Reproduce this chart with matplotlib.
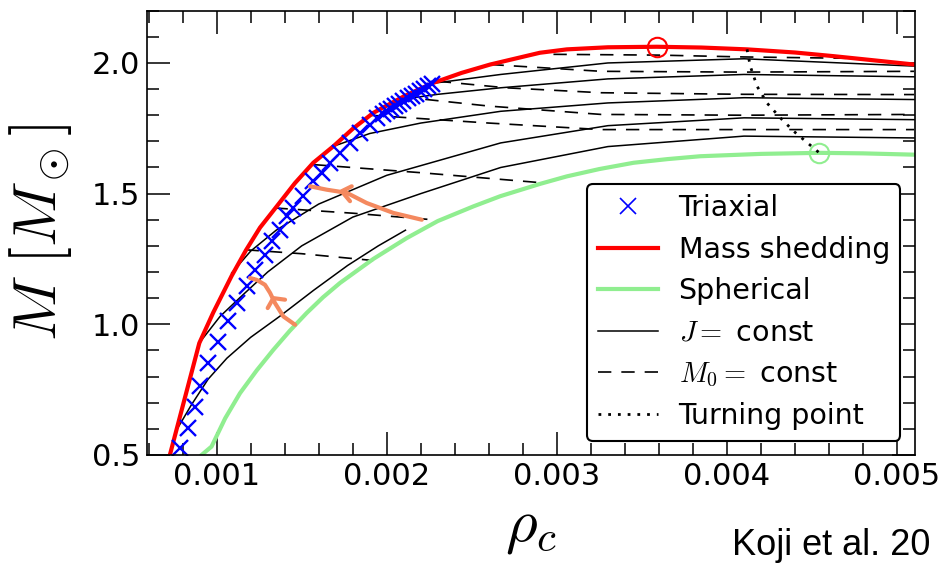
import numpy as np
import matplotlib
matplotlib.use('Agg')
import matplotlib.pyplot as plt
from matplotlib.ticker import MultipleLocator

plt.rcParams['mathtext.fontset'] = 'cm'
plt.rcParams['font.family'] = ['DejaVu Sans']

# mass shedding limit (rho_c, M)
red_rho = [0.000725, 0.000898, 0.00098, 0.001088, 0.001172, 0.001255, 0.001353, 0.001460, 0.001568,
           0.001686, 0.001800, 0.001921, 0.002100, 0.002274, 0.002440, 0.002608, 0.002900, 0.003059,
           0.003300, 0.003588, 0.003850, 0.004118, 0.004400, 0.004627, 0.004850, 0.005100]
red_M = [0.50, 0.928, 1.045, 1.185, 1.283, 1.370, 1.451, 1.540, 1.618,
         1.681, 1.748, 1.809, 1.872, 1.924, 1.962, 1.994, 2.039, 2.052,
         2.060, 2.062, 2.059, 2.052, 2.040, 2.026, 2.011, 1.994]

# spherical sequence
green_rho = [0.000912, 0.00097, 0.001050, 0.001137, 0.001235, 0.001333, 0.001430, 0.001529, 0.001625,
             0.001725, 0.001921, 0.002118, 0.002300, 0.002509, 0.002667, 0.002900, 0.003059, 0.003250,
             0.003451, 0.003650, 0.003843, 0.004200, 0.004543, 0.004800, 0.005100]
green_M = [0.50, 0.532, 0.640, 0.736, 0.823, 0.902, 0.975, 1.043, 1.103,
           1.158, 1.250, 1.330, 1.395, 1.451, 1.490, 1.537, 1.566, 1.594,
           1.618, 1.632, 1.643, 1.652, 1.656, 1.654, 1.649]

# triaxial models
tri_rho = [0.000784, 0.000833, 0.000872, 0.000902, 0.000951, 0.001009, 0.001068, 0.001118, 0.001176,
           0.001225, 0.001284, 0.001324, 0.001371, 0.001412, 0.001451, 0.001510, 0.001568, 0.001618,
           0.001667, 0.001725, 0.001784, 0.001843, 0.001902, 0.001941, 0.001975, 0.002000, 0.002025,
           0.002049, 0.002073, 0.002098, 0.002122, 0.002147, 0.002171, 0.002196, 0.002220, 0.002245,
           0.002265]
tri_M = [0.526, 0.602, 0.685, 0.762, 0.851, 0.934, 1.011, 1.081, 1.148,
         1.209, 1.266, 1.317, 1.362, 1.413, 1.445, 1.490, 1.547, 1.579,
         1.618, 1.656, 1.694, 1.733, 1.764, 1.790, 1.803, 1.815, 1.825,
         1.834, 1.844, 1.854, 1.864, 1.873, 1.883, 1.892, 1.902, 1.911,
         1.918]

# J = const sequences
J1_rho = [0.000765, 0.00085, 0.00095, 0.00106, 0.0012, 0.00137, 0.00157, 0.00177, 0.00195, 0.00211]
J1_M = [0.596, 0.69, 0.79, 0.87, 0.95, 1.03, 1.13, 1.225, 1.30, 1.36]
J2_rho = [0.0009, 0.00102, 0.00115, 0.0013, 0.0015, 0.0018, 0.0022, 0.00267, 0.0033, 0.0041, 0.0051]
J2_M = [0.93, 1.03, 1.11, 1.20, 1.30, 1.41, 1.50, 1.60, 1.68, 1.72, 1.713]
J3_rho = [0.001088, 0.0012, 0.00135, 0.0016, 0.002, 0.00267, 0.0033, 0.0041, 0.0051]
J3_M = [1.196, 1.28, 1.36, 1.46, 1.57, 1.694, 1.76, 1.79, 1.783]
J4_rho = [0.001686, 0.0019, 0.0022, 0.00267, 0.0033, 0.0041, 0.0051]
J4_M = [1.681, 1.73, 1.77, 1.815, 1.847, 1.867, 1.86]
J5_rho = [0.002078, 0.0023, 0.00267, 0.0033, 0.0041, 0.0051]
J5_M = [1.86, 1.88, 1.905, 1.939, 1.956, 1.947]
J6_rho = [0.002294, 0.00267, 0.0033, 0.0041, 0.0051]
J6_M = [1.924, 1.956, 2.0, 2.016, 1.988]

# M0 = const sequences
D1_rho = [0.00117, 0.0015, 0.00192]
D1_M = [1.285, 1.27, 1.244]
D2_rho = [0.00134, 0.0018, 0.00227]
D2_M = [1.445, 1.425, 1.40]
D3_rho = [0.00157, 0.0022, 0.00292]
D3_M = [1.611, 1.58, 1.541]
D4_rho = [0.0019, 0.0026, 0.00326, 0.0041, 0.0051]
D4_M = [1.80, 1.77, 1.745, 1.745, 1.745]
D5_rho = [0.00209, 0.0026, 0.00326, 0.0041, 0.0051]
D5_M = [1.87, 1.835, 1.803, 1.80, 1.803]
D6_rho = [0.0023, 0.0027, 0.00326, 0.0041, 0.0051]
D6_M = [1.93, 1.905, 1.886, 1.88, 1.879]
D7_rho = [0.00261, 0.00326, 0.0041, 0.0051]
D7_M = [1.994, 1.968, 1.965, 1.968]
D8_rho = [0.00298, 0.0036, 0.0041, 0.0047]
D8_M = [2.033, 2.03, 2.023, 2.018]

# turning points
turn_rho = [0.004118, 0.004137, 0.004177, 0.004235, 0.004314, 0.004392, 0.004543]
turn_M = [2.052, 1.988, 1.911, 1.847, 1.79, 1.739, 1.656]

# hand drawn arrows
arr1_rho = [0.002206, 0.002039, 0.001882, 0.001765, 0.001647, 0.001549]
arr1_M = [1.400, 1.426, 1.464, 1.503, 1.515, 1.528]
arr1_head_rho = [0.001794, 0.001735, 0.001784]
arr1_head_M = [1.528, 1.509, 1.471]
arr2_rho = [0.001461, 0.001392, 0.001343, 0.001314, 0.001284, 0.001235, 0.001196]
arr2_M = [0.998, 1.030, 1.081, 1.120, 1.151, 1.170, 1.177]
arr2_head_rho = [0.001300, 0.001333, 0.001402]
arr2_head_M = [1.062, 1.100, 1.094]

fig = plt.figure(figsize=(9.44, 5.63), dpi=100)
ax = fig.add_axes([0.156, 0.192, 0.813, 0.789])

dash = (8, 6)
for r, m in [(D1_rho, D1_M), (D2_rho, D2_M), (D3_rho, D3_M), (D4_rho, D4_M),
             (D5_rho, D5_M), (D6_rho, D6_M), (D7_rho, D7_M), (D8_rho, D8_M)]:
    ax.plot(r, m, color='black', lw=1.2, dashes=dash)
for r, m in [(J1_rho, J1_M), (J2_rho, J2_M), (J3_rho, J3_M), (J4_rho, J4_M),
             (J5_rho, J5_M), (J6_rho, J6_M)]:
    ax.plot(r, m, color='black', lw=1.1)

ax.plot(green_rho, green_M, color='#90EE90', lw=3)
ax.plot(red_rho, red_M, color='red', lw=3)
ax.plot(turn_rho, turn_M, color='black', lw=2, linestyle=(0, (1, 2.5)))
ax.plot(tri_rho, tri_M, 'x', color='blue', ms=11, mew=1.7)

ax.plot([0.003588], [2.062], 'o', mfc='none', mec='red', ms=14, mew=1.5)
ax.plot([0.004543], [1.656], 'o', mfc='none', mec='#90EE90', ms=14, mew=1.5)

orange = '#F4895F'
ax.plot(arr1_rho, arr1_M, color=orange, lw=3, solid_capstyle='round')
ax.plot(arr1_head_rho, arr1_head_M, color=orange, lw=3, solid_capstyle='round')
ax.plot(arr2_rho, arr2_M, color=orange, lw=3, solid_capstyle='round')
ax.plot(arr2_head_rho, arr2_head_M, color=orange, lw=3, solid_capstyle='round')

# legend proxies
ax.plot([], [], 'x', color='blue', ms=11, mew=1.2, label='Triaxial')
ax.plot([], [], color='red', lw=3, label='Mass shedding')
ax.plot([], [], color='#90EE90', lw=3, label='Spherical')
ax.plot([], [], color='black', lw=1.1, label=r'$J=$ const')
ax.plot([], [], color='black', lw=1.2, dashes=dash, label=r'$M_0=$ const')
ax.plot([], [], color='black', lw=2, linestyle=(0, (1, 2.5)), label='Turning point')
handles, labels = ax.get_legend_handles_labels()
leg = ax.legend(handles[-6:], labels[-6:], loc='lower right', fontsize=20.5,
                borderaxespad=0.5, handlelength=2.1, handletextpad=0.74,
                labelspacing=0.47, borderpad=0.37, fancybox=True, framealpha=1,
                edgecolor='black')
leg.get_frame().set_linewidth(1.5)

ax.set_xlim(0.000592, 0.005104)
ax.set_ylim(0.5, 2.2)
ax.set_xticks([0.001, 0.002, 0.003, 0.004, 0.005])
ax.set_xticklabels(['0.001', '0.002', '0.003', '0.004', '0.005'])
ax.set_yticks([0.5, 1.0, 1.5, 2.0])
ax.set_yticklabels(['0.5', '1.0', '1.5', '2.0'])
ax.xaxis.set_minor_locator(MultipleLocator(0.0002))
ax.yaxis.set_minor_locator(MultipleLocator(0.1))
ax.tick_params(which='both', direction='in', top=True, right=True, labelsize=22, width=1.1, pad=5)
ax.tick_params(which='major', length=16.5)
ax.tick_params(which='minor', length=8.6)
for s in ax.spines.values():
    s.set_linewidth(1.2)

ax.set_ylabel(r'$M\ [M_\odot]$', fontsize=44)
ax.yaxis.set_label_coords(-0.095, 0.5)
ax.set_xlabel(r'$\rho_c$', fontsize=44)
ax.xaxis.set_label_coords(0.5, -0.095)

fig.text(732 / 944, 1 - 555 / 563, 'Koji et al. 20', fontsize=26,
         family=['Liberation Sans', 'DejaVu Sans'], va='baseline', ha='left')

fig.savefig('out.png', dpi=100)
